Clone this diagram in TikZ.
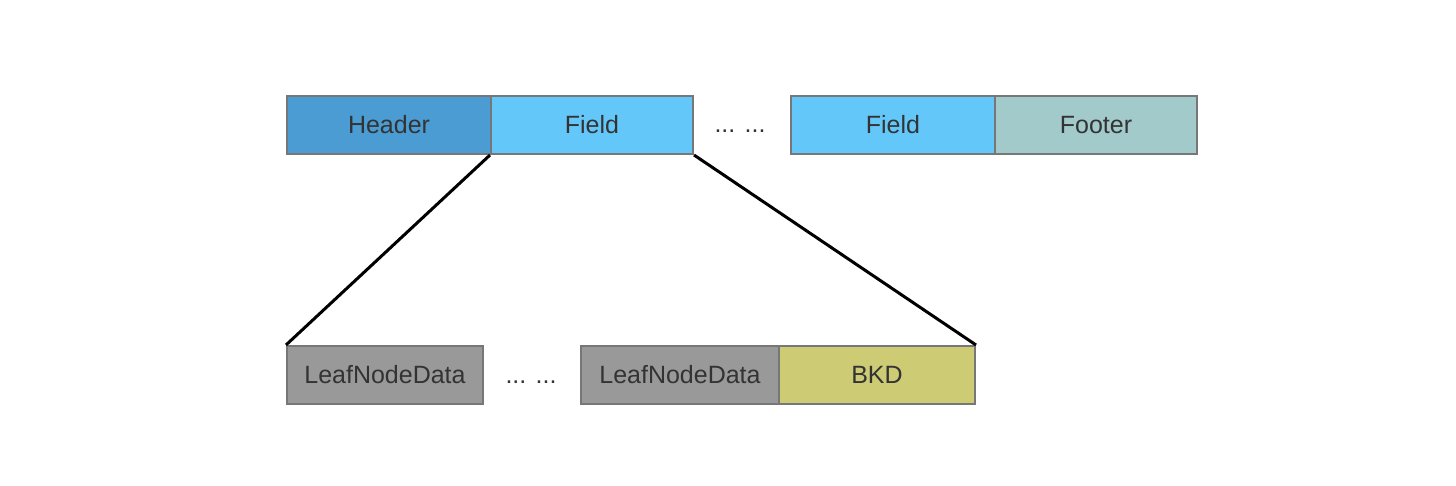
\documentclass[tikz,border=0pt]{standalone}
\usepackage{fontspec}
\setmainfont{Liberation Sans}
\definecolor{bordergray}{HTML}{777777}
\definecolor{txt}{HTML}{333333}
\definecolor{hdr}{HTML}{4A9CD3}
\definecolor{fld}{HTML}{63C8F9}
\definecolor{ftr}{HTML}{A3CACB}
\definecolor{leaf}{HTML}{999999}
\definecolor{bkd}{HTML}{CDCB74}
\begin{document}
\begin{tikzpicture}[x=1pt,y=-1pt,
  cell/.style={draw=bordergray, line width=2pt, minimum height=58pt, inner sep=0pt, anchor=north west, text=txt, font=\fontsize{25}{30}\selectfont},
  dots/.style={text=txt, font=\fontsize{25}{30}\selectfont, inner sep=0pt, anchor=base},
  conn/.style={line width=3pt, black}]
\useasboundingbox (0,0) rectangle (1456,486);
\fill[white] (0,0) rectangle (1456,486);
% top row
\node[cell, fill=hdr, minimum width=204pt] (hdr) at (286,95) {Header};
\node[cell, fill=fld, minimum width=202pt] (fld1) at (490,95) {Field};
\node[dots] (tdots) at (740,133) {... ...};
\node[cell, fill=fld, minimum width=204pt] (fld2) at (790,95) {Field};
\node[cell, fill=ftr, minimum width=202pt] (ftr) at (994,95) {Footer};
% bottom row
\node[cell, fill=leaf, minimum width=196pt] (leaf1) at (286,345) {LeafNodeData};
\node[dots] (bdots) at (531,383) {... ...};
\node[cell, fill=leaf, minimum width=198pt] (leaf2) at (580,345) {LeafNodeData};
\node[cell, fill=bkd, minimum width=196pt] (bkd) at (778,345) {BKD};
% connectors
\draw[conn] (fld1.south west) -- (leaf1.north west);
\draw[conn] (fld1.south east) -- (bkd.north east);
\end{tikzpicture}
\end{document}
